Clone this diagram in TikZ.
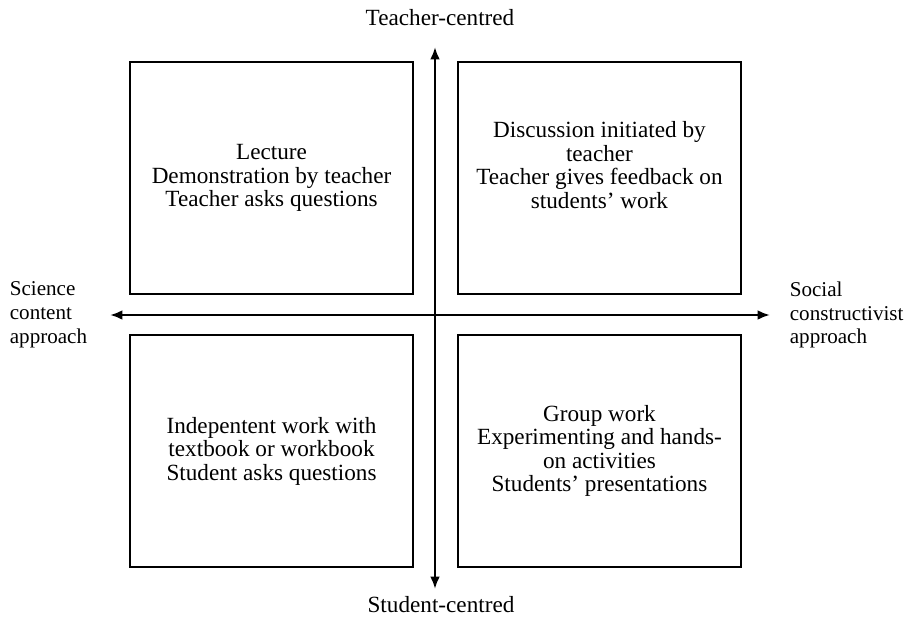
\documentclass[tikz,border=0pt]{standalone}
\usepackage{fontspec}
\setmainfont{Liberation Serif}
\usetikzlibrary{positioning,arrows.meta}

\begin{document}
\begin{tikzpicture}[x=0.02cm, y=-0.02cm, node distance=0cm, outer sep=0pt,
    every node/.style={font=\fontsize{13.2}{13.4}\selectfont},
    side/.style={anchor=west, align=left, font=\fontsize{12}{13.6}\selectfont},
    quad/.style={draw, rectangle, line width=0.75pt, minimum width=5.66cm, minimum height=4.64cm},
    axis/.style={line width=1.3pt, {Latex[length=7pt,width=5.5pt]}-{Latex[length=7pt,width=5.5pt]}}]
    \useasboundingbox (0,0) rectangle (920,619);

    \coordinate (o) at (435,315);
    \coordinate (n) at (435,47);
    \coordinate (s) at (435,589);
    \coordinate (w) at (110,315);
    \coordinate (e) at (770,315);

    \node [quad, above left=0.42cm and 0.44cm of o, label={[align=center]center:Lecture\\Demonstration by teacher\\Teacher asks questions}] (tl) {};
    \node [quad, above right=0.42cm and 0.46cm of o, label={[align=center, yshift=0.26cm]center:Discussion initiated by\\teacher\\Teacher gives feedback on\\students’ work}] (tr) {};
    \node [quad, below left=0.40cm and 0.44cm of o, label={[align=center]center:Indepentent work with\\textbook or workbook\\Student asks questions}] (bl) {};
    \node [quad, below right=0.40cm and 0.46cm of o, label={[align=center]center:Group work\\Experimenting and hands-\\on activities\\Students’ presentations}] (br) {};

    \draw [axis] (n) -- (s);
    \draw [axis] (w) -- (e);

    \node at (440,18) (tc) {Teacher-centred};
    \node at (441,605) (sc) {Student-centred};
    \node [side] at (4,315) (sca) {Science\\content\\approach};
    \node [side] at (784,315) (sca2) {Social\\constructivist\\approach};

\end{tikzpicture}
\end{document}
